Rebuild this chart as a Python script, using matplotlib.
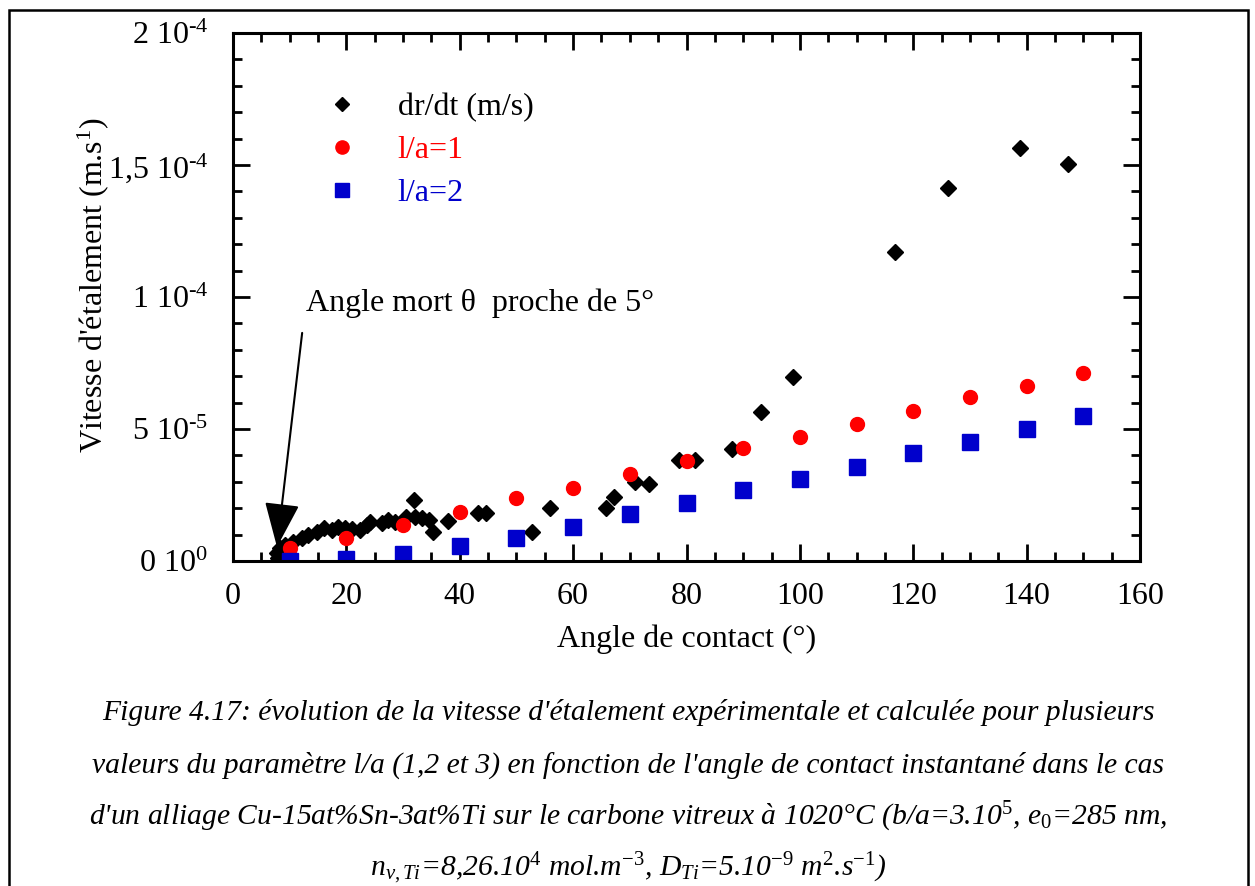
import numpy as np
import matplotlib
matplotlib.use("Agg")
import matplotlib.pyplot as plt
from matplotlib.patches import Rectangle

plt.rcParams['font.family'] = ['Liberation Serif', 'DejaVu Serif']
plt.rcParams['mathtext.fontset'] = 'custom'
plt.rcParams['mathtext.rm'] = 'Liberation Serif'
plt.rcParams['mathtext.it'] = 'Liberation Serif:italic'

# dr/dt mesuré (angle en °, vitesse en 1e-6 m/s)
exp_angle = [8.0, 7.7, 8.3, 9.2, 10.6, 12.1, 13.3, 14.8, 16.0, 17.4, 18.6, 19.8, 21.0,
             22.4, 23.6, 24.2, 26.2, 27.4, 28.6, 30.5, 31.9, 32.1, 33.3, 34.5, 35.2,
             38.0, 43.3, 44.7, 52.7, 55.9, 65.8, 67.2, 71.0, 73.3, 78.6, 81.5, 88.0,
             93.1, 98.7, 116.7, 126.1, 138.8, 147.3]
exp_speed = [1.0, 2.9, 4.8, 6.1, 7.3, 8.6, 9.8, 11.1, 12.4, 11.7, 13.0, 12.4, 12.0,
             11.7, 13.6, 14.9, 14.3, 15.5, 14.9, 16.5, 23.1, 16.8, 16.2, 15.5, 10.9,
             15.2, 18.1, 18.1, 10.9, 20.2, 20.2, 24.4, 30.0, 29.2, 38.3, 38.3, 42.3,
             56.3, 69.6, 116.9, 141.2, 156.3, 150.3]

# modèle
calc_angle = [10, 20, 30, 40, 50, 60, 70, 80, 90, 100, 110, 120, 130, 140, 150]
la1_speed = [4.8, 8.6, 13.6, 18.7, 23.7, 27.8, 33.0, 37.8, 42.9, 46.9, 52.0, 56.9, 62.0, 66.3, 71.1]
la2_speed = [0.0, 0.8, 2.7, 5.7, 8.6, 12.8, 17.7, 21.9, 26.9, 30.9, 35.7, 40.8, 45.0, 49.9, 55.0]

y_ticks = [0, 5e-5, 1e-4, 1.5e-4, 2e-4]
y_labels = [r'0 10$^{\text{0}}$', r'5 10$^{\text{-5}}$', r'1 10$^{\text{-4}}$',
            r'1,5 10$^{\text{-4}}$', r'2 10$^{\text{-4}}$']

caption = [
    "Figure 4.17: évolution de la vitesse d'étalement expérimentale et calculée pour plusieurs",
    "valeurs du paramètre l/a (1,2 et 3) en fonction de l'angle de contact instantané dans le cas",
    r"d'un alliage Cu-15at%Sn-3at%Ti sur le carbone vitreux à 1020°C (b/a=3.10$^{\mathit{5}}$, e$_{\mathit{0}}$=285 nm,",
    r"n$_{\mathit{v,Ti}}$=8,26.10$^{\mathit{4}}$ mol.m$^{\mathit{-3}}$, D$_{\mathit{Ti}}$=5.10$^{\mathit{-9}}$ m$^{\mathit{2}}$.s$^{\mathit{-1}}$)",
]

W, H = 1255, 886
fig = plt.figure(figsize=(W / 100, H / 100), dpi=100)
ax = fig.add_axes([233 / W, 1 - 561 / H, (1140 - 233) / W, (561 - 33) / H])

e6 = 1e-6
ax.plot(exp_angle, np.array(exp_speed) * e6, 'D', color='black', ms=8.5, ls='none',
        label='dr/dt (m/s)')
ax.plot(calc_angle, np.array(la1_speed) * e6, 'o', color='#ff0000', ms=10, ls='none',
        label='l/a=1')
ax.plot(calc_angle, np.array(la2_speed) * e6, 's', color='#0000cc', ms=11.5, ls='none',
        label='l/a=2')

ax.set_xlim(0, 160)
ax.set_ylim(0, 2e-4)
ax.set_xticks(np.arange(0, 161, 20))
ax.set_xticks(np.arange(0, 161, 5), minor=True)
ax.set_yticks(y_ticks)
ax.set_yticklabels(y_labels)
ax.set_yticks(np.arange(0, 2.01e-4, 1e-5), minor=True)

for s in ax.spines.values():
    s.set_linewidth(2.2)
ax.tick_params(which='both', direction='in', top=True, right=True, width=2, labelsize=23)
ax.tick_params(which='major', length=12)
ax.tick_params(which='minor', length=6.5)
ax.tick_params(axis='y', pad=18)
ax.tick_params(axis='x', pad=15)

ax.set_xlabel('Angle de contact (°)', fontsize=23)
ax.xaxis.set_label_coords(0.5, -0.12)
ax.set_ylabel(r"Vitesse d'étalement (m.s$^{\text{1}}$)", fontsize=23)
ax.yaxis.set_label_coords(-0.135, 0.523)

leg = ax.legend(loc='upper left', bbox_to_anchor=(326 / W, 1 - 93 / H),
                bbox_transform=fig.transFigure, frameon=False, fontsize=23,
                handlelength=1.0, handletextpad=1.25, labelspacing=0.42,
                borderpad=0, borderaxespad=0, numpoints=1)
for txt, col in zip(leg.get_texts(), ['black', '#ff0000', '#0000cc']):
    txt.set_color(col)
for h, ms in zip(leg.legend_handles, [7, 9.5, 10.5]):
    h.set_markersize(ms)

ax.annotate('', xy=(7.76, 5.3e-6), xytext=(12.2, 86.4e-6),
            arrowprops=dict(arrowstyle='-|>,head_length=1.4,head_width=0.55',
                            color='black', lw=1.5, mutation_scale=20,
                            shrinkA=0, shrinkB=0))
ax.text(12.9, 97.7e-6, 'Angle mort θ  proche de 5°', fontsize=23, va='center', ha='left')

# cadre + légende de figure
fig.patches.append(Rectangle((9 / W, -0.05), (1248 - 9) / W, 1 - 10 / H + 0.05,
                             transform=fig.transFigure, fill=False, lw=1.8,
                             edgecolor='black'))
for i, line in enumerate(caption):
    fig.text(628 / W, 1 - (713 + 52 * i) / H, line, fontsize=21.3, style='italic',
             ha='center', va='center')

fig.savefig('out.png', dpi=100)
